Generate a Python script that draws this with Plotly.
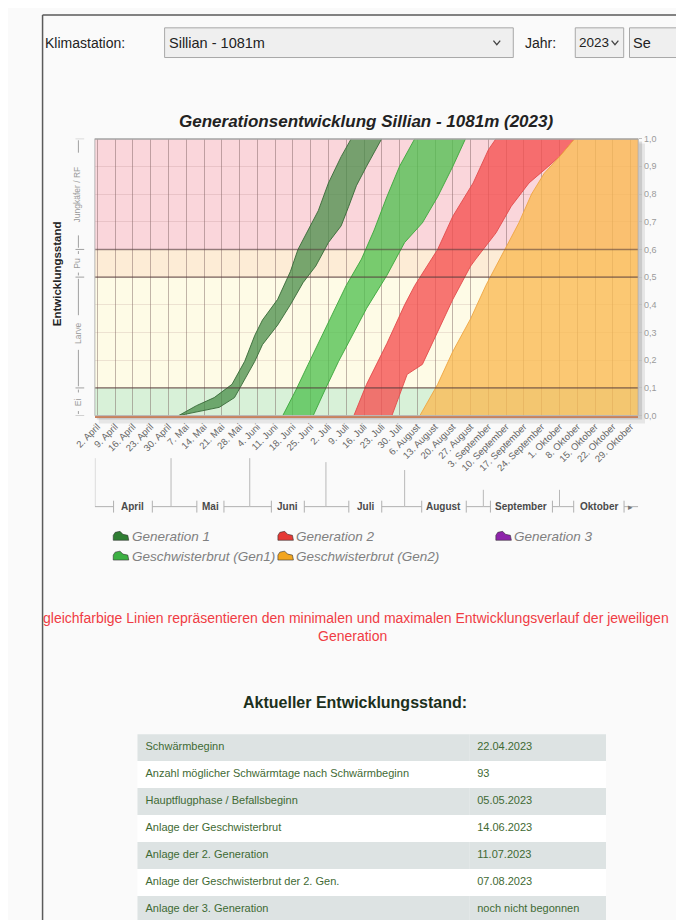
import plotly.graph_objects as go
from datetime import datetime, timedelta

# page has an 8px body margin; the figure starts at page (8, 8)
OFF = 8
W, H = 684 - 2 * OFF, 930

# ---------------- data ----------------
tick_dates = ["2023-04-02", "2023-04-09", "2023-04-16", "2023-04-23", "2023-04-30",
              "2023-05-07", "2023-05-14", "2023-05-21", "2023-05-28",
              "2023-06-04", "2023-06-11", "2023-06-18", "2023-06-25",
              "2023-07-02", "2023-07-09", "2023-07-16", "2023-07-23", "2023-07-30",
              "2023-08-06", "2023-08-13", "2023-08-20", "2023-08-27",
              "2023-09-03", "2023-09-10", "2023-09-17", "2023-09-24",
              "2023-10-01", "2023-10-08", "2023-10-15", "2023-10-22", "2023-10-29"]
tick_labels = ["2. April", "9. April", "16. April", "23. April", "30. April",
               "7. Mai", "14. Mai", "21. Mai", "28. Mai",
               "4. Juni", "11. Juni", "18. Juni", "25. Juni",
               "2. Juli", "9. Juli", "16. Juli", "23. Juli", "30. Juli",
               "6. August", "13. August", "20. August", "27. August",
               "3. September", "10. September", "17. September", "24. September",
               "1. Oktober", "8. Oktober", "15. Oktober", "22. Oktober", "29. Oktober"]

month_names = ["April", "Mai", "Juni", "Juli", "August", "September", "Oktober"]
month_starts = ["2023-04-01", "2023-05-01", "2023-06-01", "2023-07-01",
                "2023-08-01", "2023-09-01", "2023-10-01"]
range_end = "2023-11-01"

stage_bounds = [0.0, 0.1, 0.5, 0.6, 1.0]
stage_names = ["Ei", "Larve", "Pu", "Jungkäfer / RF"]
stage_colors = ["#d8f1d8", "#fefbe6", "#fdecd6", "#fad6db"]

y_ticks = [0.0, 0.1, 0.2, 0.3, 0.4, 0.5, 0.6, 0.7, 0.8, 0.9, 1.0]
y_tick_labels = ["0,0", "0,1", "0,2", "0,3", "0,4", "0,5", "0,6", "0,7", "0,8", "0,9", "1,0"]

# Generation 1
gen1_early_dates = ["2023-05-04", "2023-05-11", "2023-05-18", "2023-05-25", "2023-05-30",
                    "2023-06-03", "2023-06-06", "2023-06-12", "2023-06-17", "2023-06-20",
                    "2023-06-24", "2023-06-28", "2023-07-02", "2023-07-07", "2023-07-11"]
gen1_early_vals = [0.0, 0.036, 0.065, 0.113, 0.196, 0.29, 0.345, 0.42, 0.52, 0.60,
                   0.67, 0.74, 0.84, 0.935, 1.0]
gen1_late_dates = ["2023-05-04", "2023-05-20", "2023-05-26", "2023-05-29", "2023-06-03",
                   "2023-06-06", "2023-06-12", "2023-06-17", "2023-06-22", "2023-06-27",
                   "2023-07-02", "2023-07-07", "2023-07-10", "2023-07-13", "2023-07-17",
                   "2023-07-23"]
gen1_late_vals = [0.0, 0.03, 0.065, 0.113, 0.196, 0.256, 0.327, 0.40, 0.48, 0.54,
                  0.625, 0.685, 0.756, 0.83, 0.90, 1.0]

# Geschwisterbrut (Gen1)
gb1_early_dates = ["2023-06-14", "2023-06-19", "2023-06-24", "2023-06-29", "2023-07-04",
                   "2023-07-09", "2023-07-15", "2023-07-20", "2023-07-25", "2023-07-30",
                   "2023-08-05"]
gb1_early_vals = [0.0, 0.089, 0.185, 0.28, 0.375, 0.47, 0.565, 0.67, 0.79, 0.90, 1.0]
gb1_late_dates = ["2023-06-26", "2023-07-01", "2023-07-06", "2023-07-12", "2023-07-17",
                  "2023-07-25", "2023-08-01", "2023-08-08", "2023-08-14", "2023-08-20",
                  "2023-08-25"]
gb1_late_vals = [0.0, 0.10, 0.196, 0.30, 0.387, 0.506, 0.625, 0.696, 0.79, 0.90, 1.0]

# Generation 2
gen2_early_dates = ["2023-07-12", "2023-07-17", "2023-07-25", "2023-08-01", "2023-08-05",
                    "2023-08-14", "2023-08-20", "2023-08-28", "2023-09-03", "2023-09-06"]
gen2_early_vals = [0.0, 0.113, 0.26, 0.40, 0.47, 0.60, 0.72, 0.84, 0.96, 1.0]
gen2_late_dates = ["2023-07-27", "2023-08-02", "2023-08-08", "2023-08-14", "2023-08-20",
                   "2023-08-27", "2023-08-29", "2023-09-06", "2023-09-12", "2023-09-19",
                   "2023-09-25", "2023-10-01", "2023-10-07"]
gen2_late_vals = [0.0, 0.149, 0.185, 0.30, 0.42, 0.54, 0.565, 0.66, 0.756, 0.84,
                  0.887, 0.935, 1.0]

# Geschwisterbrut (Gen2)
gb2_early_dates = ["2023-08-07", "2023-08-14", "2023-08-20", "2023-08-27", "2023-09-02",
                   "2023-09-08", "2023-09-15", "2023-09-20", "2023-09-25", "2023-10-01",
                   "2023-10-07", "2023-11-01"]
gb2_early_vals = [0.0, 0.113, 0.232, 0.35, 0.47, 0.577, 0.696, 0.80, 0.875, 0.935, 1.0, 1.0]
gb2_late_dates = ["2023-08-07", "2023-11-01"]
gb2_late_vals = [0.0, 0.0]

legend_names = ["Generation 1", "Generation 2", "Generation 3",
                "Geschwisterbrut (Gen1)", "Geschwisterbrut (Gen2)"]
legend_colors = ["#2e7d32", "#e53935", "#8e24aa", "#3cb043", "#f2a51f"]

table_labels = ["Schwärmbeginn",
                "Anzahl möglicher Schwärmtage nach Schwärmbeginn",
                "Hauptflugphase / Befallsbeginn",
                "Anlage der Geschwisterbrut",
                "Anlage der 2. Generation",
                "Anlage der Geschwisterbrut der 2. Gen.",
                "Anlage der 3. Generation"]
table_values = ["22.04.2023", "93", "05.05.2023", "14.06.2023", "11.07.2023",
                "07.08.2023", "noch nicht begonnen"]

# ---------------- helpers (page pixel -> paper) ----------------
def PX(x):
    return (x - OFF) / W


def PY(y):
    return 1 - (y - OFF) / H


FONT = "Liberation Sans, Arial, sans-serif"

fig = go.Figure()

bands = [
    (gen1_early_dates, gen1_early_vals, gen1_late_dates, gen1_late_vals,
     "rgba(72,140,72,0.74)", "rgba(55,105,55,0.9)"),
    (gb1_early_dates, gb1_early_vals, gb1_late_dates, gb1_late_vals,
     "rgba(78,192,78,0.76)", "rgba(60,165,60,0.9)"),
    (gen2_early_dates, gen2_early_vals, gen2_late_dates, gen2_late_vals,
     "rgba(245,80,80,0.78)", "rgba(225,75,75,0.9)"),
    (gb2_early_dates, gb2_early_vals, gb2_late_dates, gb2_late_vals,
     "rgba(250,186,82,0.78)", "rgba(238,165,65,0.9)"),
]
for ed, ev, ld, lv, fc, lc in bands:
    fig.add_trace(go.Scatter(
        x=ed + ld[::-1], y=ev + lv[::-1], mode="lines", fill="toself",
        fillcolor=fc, line=dict(color=lc, width=1), hoverinfo="skip",
        showlegend=False))

shapes = []
annotations = []

# page frame
shapes.append(dict(type="line", xref="paper", yref="paper", x0=PX(22), x1=1.0,
                   y0=PY(10), y1=PY(10), line=dict(color="#5a5a5a", width=1.5)))
shapes.append(dict(type="line", xref="paper", yref="paper", x0=PX(22), x1=PX(22),
                   y0=PY(10), y1=0, line=dict(color="#5a5a5a", width=1.5)))

# header controls
annotations.append(dict(text="Klimastation:", x=PX(22), y=PY(38), xref="paper", yref="paper",
                        xanchor="left", yanchor="middle", showarrow=False,
                        font=dict(size=14, color="#222", family=FONT)))
for (x0, x1, label, chev, fs) in [(148, 508, "Sillian - 1081m", 491, 14.5),
                                  (572, 622, "2023", 613, 13.5),
                                  (628, 700, "Se", None, 14.5)]:
    shapes.append(dict(type="rect", xref="paper", yref="paper", x0=PX(x0), x1=PX(x1),
                       y0=PY(53), y1=PY(23), fillcolor="#efefef",
                       line=dict(color="#a8a8a8", width=1)))
    annotations.append(dict(text=label, x=PX(x0 + 2), y=PY(38), xref="paper", yref="paper",
                            xanchor="left", yanchor="middle", showarrow=False,
                            font=dict(size=fs, color="#222", family=FONT)))
    if chev:
        shapes.append(dict(type="path", xref="paper", yref="paper",
                           path=f"M {PX(chev-3.5)},{PY(36)} L {PX(chev)},{PY(40)} L {PX(chev+3.5)},{PY(36)}",
                           line=dict(color="#444", width=1.3)))
annotations.append(dict(text="Jahr:", x=PX(518), y=PY(38), xref="paper", yref="paper",
                        xanchor="left", yanchor="middle", showarrow=False,
                        font=dict(size=14, color="#222", family=FONT)))

# chart title + y title
annotations.append(dict(text="<b><i>Generationsentwicklung Sillian - 1081m (2023)</i></b>",
                        x=PX(356), y=PY(118), xref="paper", yref="paper",
                        xanchor="center", yanchor="middle", showarrow=False,
                        font=dict(size=17, color="#222", family=FONT)))
annotations.append(dict(text="<b>Entwicklungsstand</b>", x=PX(37), y=PY(272),
                        xref="paper", yref="paper", textangle=-90, showarrow=False,
                        xanchor="center", yanchor="middle",
                        font=dict(size=11.5, color="#222", family=FONT)))

# drop shadow of plot
shapes.append(dict(type="rect", xref="paper", yref="paper", x0=PX(80), x1=PX(644),
                   y0=PY(423), y1=PY(140), fillcolor="rgba(0,0,0,0.08)", line_width=0,
                   layer="below"))
shapes.append(dict(type="rect", xref="paper", yref="paper", x0=PX(78), x1=PX(641),
                   y0=PY(419), y1=PY(138), fillcolor="rgba(0,0,0,0.12)", line_width=0,
                   layer="below"))

# stage background bands
for lo, hi, c in zip(stage_bounds[:-1], stage_bounds[1:], stage_colors):
    shapes.append(dict(type="rect", xref="x domain", yref="y", x0=0, x1=1, y0=lo, y1=hi,
                       fillcolor=c, line_width=0, layer="below"))
for b in stage_bounds[1:-1]:
    shapes.append(dict(type="line", xref="x domain", yref="y", x0=0, x1=1, y0=b, y1=b,
                       line=dict(color="rgba(85,60,60,0.55)", width=1.6), layer="above"))
shapes.append(dict(type="rect", xref="x domain", yref="y domain", x0=0, x1=1, y0=0, y1=1,
                   line=dict(color="#b8b8b8", width=1), fillcolor="rgba(0,0,0,0)",
                   layer="above"))
shapes.append(dict(type="line", xref="x domain", yref="y", x0=0, x1=1, y0=1, y1=1,
                   line=dict(color="#a5a5a5", width=2), layer="above"))

# left stage bracket
bx = 59
for lo, hi, name in zip(stage_bounds[:-1], stage_bounds[1:], stage_names):
    mid = (lo + hi) / 2
    half = (len(name) * 2.7 + 4) / 280.0
    if mid - half > lo:
        shapes.append(dict(type="line", xref="paper", yref="y", x0=PX(bx), x1=PX(bx),
                           y0=lo + 0.006, y1=mid - half, line=dict(color="#a0a0a0", width=1)))
        shapes.append(dict(type="line", xref="paper", yref="y", x0=PX(bx), x1=PX(bx),
                           y0=mid + half, y1=hi - 0.006, line=dict(color="#a0a0a0", width=1)))
    annotations.append(dict(text=name, x=PX(bx - 1), y=mid, xref="paper", yref="y",
                            textangle=-90, showarrow=False, xanchor="center", yanchor="middle",
                            font=dict(size=8.5, color="#9a9a9a", family=FONT)))
for b in stage_bounds:
    shapes.append(dict(type="line", xref="paper", yref="y", x0=PX(bx - 3), x1=PX(bx + 6),
                       y0=b, y1=b, line=dict(color="#a0a0a0", width=1)))

# month bracket axis
ms = [datetime.fromisoformat(s) for s in month_starts] + [datetime.fromisoformat(range_end)]
px_per_day = 561 / 214.0
ym = 507
tops = [458, 458, 458, 462, 470, 490, 490]
for i, name in enumerate(month_names):
    a, b = ms[i], ms[i + 1]
    mid = a + (b - a) / 2
    half = timedelta(days=(len(name) * 6.0 + 10) / 2 / px_per_day)
    annotations.append(dict(text=f"<b>{name}</b>", x=mid, y=PY(ym), xref="x", yref="paper",
                            xanchor="center", yanchor="middle", showarrow=False,
                            font=dict(size=10, color="#4a4a4a", family=FONT)))
    for x0, x1 in [(a, mid - half), (mid + half, b)]:
        shapes.append(dict(type="line", xref="x", yref="paper", x0=x0, x1=x1,
                           y0=PY(ym), y1=PY(ym), line=dict(color="#b0b0b0", width=1)))
    for xb in [mid - half, mid + half]:
        shapes.append(dict(type="line", xref="x", yref="paper", x0=xb, x1=xb,
                           y0=PY(ym - 6), y1=PY(ym + 6), line=dict(color="#b0b0b0", width=1)))
    shapes.append(dict(type="line", xref="x", yref="paper", x0=a, x1=a,
                       y0=PY(tops[i]), y1=PY(ym), line=dict(color="#b8b8b8", width=1)))
annotations.append(dict(text="▸", x=ms[-1] - timedelta(days=3), y=PY(ym), xref="x",
                        yref="paper", xanchor="center", yanchor="middle", showarrow=False,
                        font=dict(size=9, color="#777", family=FONT)))

# custom legend
col_x = [95, 265, 490]
row_y = [537, 557]
slots = [(0, 0), (0, 1), (0, 2), (1, 0), (1, 1)]
for name, color, (r, c) in zip(legend_names, legend_colors, slots):
    x0, yc = col_x[c], row_y[r]
    pts = [(x0, yc + 4), (x0, yc - 1), (x0 + 2, yc - 4), (x0 + 7, yc - 5), (x0 + 10, yc - 2),
           (x0 + 15, yc - 1), (x0 + 16, yc + 4)]
    path = "M " + " L ".join(f"{PX(px_)},{PY(py_)}" for px_, py_ in pts) + " Z"
    shapes.append(dict(type="path", xref="paper", yref="paper", path=path,
                       fillcolor=color, line=dict(color="#333", width=0.6)))
    annotations.append(dict(text=f"<i>{name}</i>", x=PX(x0 + 17), y=PY(yc), xref="paper",
                            yref="paper", xanchor="left", yanchor="middle", showarrow=False,
                            font=dict(size=13.5, color="#808080", family=FONT)))

# red note
annotations.append(dict(
    text="gleichfarbige Linien repräsentieren den minimalen und maximalen Entwicklungsverlauf der jeweiligen",
    x=PX(20), y=PY(620), xref="paper", yref="paper", xanchor="left", yanchor="middle",
    showarrow=False, font=dict(size=14, color="#f03c44", family=FONT)))
annotations.append(dict(text="Generation", x=PX(342), y=PY(638), xref="paper", yref="paper",
                        xanchor="center", yanchor="middle", showarrow=False,
                        font=dict(size=14, color="#f03c44", family=FONT)))

annotations.append(dict(text="<b>Aktueller Entwicklungsstand:</b>", x=PX(345), y=PY(705),
                        xref="paper", yref="paper", xanchor="center", yanchor="middle",
                        showarrow=False, font=dict(size=16, color="#1c301c", family=FONT)))

# table (rows of 27px starting at page y=737; the last row runs into the window edge)
gray, white = "#dde3e3", "#ffffff"
row_fills = [white if i % 2 == 0 else gray for i in range(len(table_labels) - 1)]
fig.add_trace(go.Table(
    domain=dict(x=[PX(120), PX(605)], y=[0, PY(737)]),
    columnwidth=[343, 142],
    header=dict(values=[table_labels[0], table_values[0]], fill_color=gray, align="left",
                height=27, line=dict(color=gray, width=0),
                font=dict(size=11, color="#3f6a34", family=FONT)),
    cells=dict(values=[table_labels[1:], table_values[1:]], fill_color=[row_fills, row_fills],
               align="left", height=27, line=dict(color=[row_fills, row_fills], width=0),
               font=dict(size=11, color="#3f6a34", family=FONT)),
))

fig.update_layout(
    width=W, height=H,
    margin=dict(l=0, r=0, t=0, b=0),
    paper_bgcolor="#fafafa",
    plot_bgcolor="rgba(0,0,0,0)",
    font=dict(family=FONT),
    showlegend=False,
    shapes=shapes,
    annotations=annotations,
    xaxis=dict(type="date", range=[month_starts[0], range_end],
               domain=[PX(76), PX(637)], tickvals=tick_dates, ticktext=tick_labels,
               tickangle=-45, tickfont=dict(size=9.5, color="#666666", family=FONT),
               showgrid=True, gridcolor="rgba(110,80,80,0.42)", gridwidth=1,
               ticks="", showline=True, linecolor="#c8825e", linewidth=2,
               zeroline=False, fixedrange=True),
    yaxis=dict(range=[0, 1], domain=[PY(415), PY(135)], side="right",
               tickvals=y_ticks, ticktext=y_tick_labels,
               tickfont=dict(size=9, color="#9a9a9a", family=FONT),
               ticks="outside", ticklen=3, tickcolor="#c0c0c0",
               showgrid=True, gridcolor="rgba(150,100,100,0.16)", zeroline=False,
               showline=False, fixedrange=True),
)

fig.write_html("out.html")
